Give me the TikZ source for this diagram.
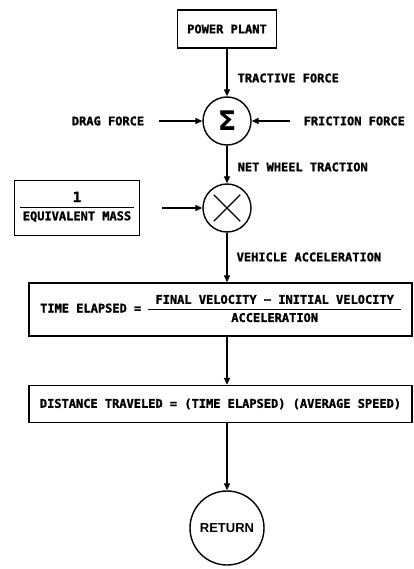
\documentclass[tikz,border=0pt]{standalone}
\usepackage{fontspec}
\usetikzlibrary{arrows.meta}
\newfontfamily\blockfont[FakeBold=1.5]{DejaVu Sans Mono}
\newfontfamily\retfont{Liberation Sans}
\newfontfamily\sigmafont{DejaVu Sans}
\setlength{\arrayrulewidth}{1.3pt}
\begin{document}
\begin{tikzpicture}[x=1pt,y=-1pt,line width=1.4pt,
    >={Triangle[length=7pt,width=6pt]},
    txt/.style={font=\blockfont\bfseries\fontsize{12}{13}\selectfont,inner sep=0pt},
    blk/.style={draw,rectangle,txt},
    junc/.style={draw,circle,minimum size=48pt,inner sep=0pt}]
    \useasboundingbox (0,0) rectangle (414,569);
    \node[blk,minimum width=99pt,minimum height=38pt] (plant) at (227,29) {POWER PLANT};% engine box
    \node[txt,anchor=west] (tractive) at (237,78) {TRACTIVE FORCE};
    \node[junc] (sum) at (227,121) {\sigmafont\bfseries\fontsize{27}{27}\selectfont Σ};% summing point
    \node[txt] (drag) at (108,121) {DRAG FORCE};
    \node[txt,anchor=west] (friction) at (303,121) {FRICTION FORCE};
    \node[txt,anchor=west] (net) at (237,167) {NET WHEEL TRACTION};
    \node[junc] (mult) at (227,208) {};% multiplier
    \node[blk,minimum width=125pt,minimum height=55pt] (mass) at (77,208)
        {\setlength{\tabcolsep}{3pt}\begin{tabular}{c}\fontsize{14}{14}\selectfont 1\\[1pt]\hline\rule{0pt}{12pt}EQUIVALENT MASS\end{tabular}};
    \node[txt,anchor=west] (vehacc) at (236,257) {VEHICLE ACCELERATION};
    \node[blk,minimum width=383pt,minimum height=53pt] (time) at (220.5,309.5)
        {TIME ELAPSED = \setlength{\tabcolsep}{7pt}\renewcommand{\arraystretch}{1.3}\begin{tabular}{c}FINAL VELOCITY − INITIAL VELOCITY\\\hline ACCELERATION\end{tabular}};
    \node[blk,minimum width=383pt,minimum height=37pt] (dist) at (220.5,404)
        {DISTANCE TRAVELED = (TIME ELAPSED) (AVERAGE SPEED)};
    \node[draw,circle,minimum size=74pt,inner sep=0pt,font=\retfont\bfseries\fontsize{13}{13}\selectfont] (ret) at (227,528) {RETURN};
    % connectors
    \draw[->] (plant) -- (sum);
    \draw[->] ([xshift=14pt]drag.east) -- (sum.west);
    \draw[->] ([xshift=-13pt]friction.west) -- (sum.east);
    \draw[->] (sum) -- (mult);
    \draw[->] ([xshift=22pt]mass.east) -- (mult.west);
    \draw[shorten <=6pt,shorten >=6pt] (mult.45) -- (mult.225);% draw the cross
    \draw[shorten <=6pt,shorten >=6pt] (mult.135) -- (mult.315);
    \draw[->] (mult) -- (mult |- time.north);
    \draw[->] (mult |- time.south) -- (mult |- dist.north);
    \draw[->] (dist.south -| ret) -- (ret);
\end{tikzpicture}
\end{document}
